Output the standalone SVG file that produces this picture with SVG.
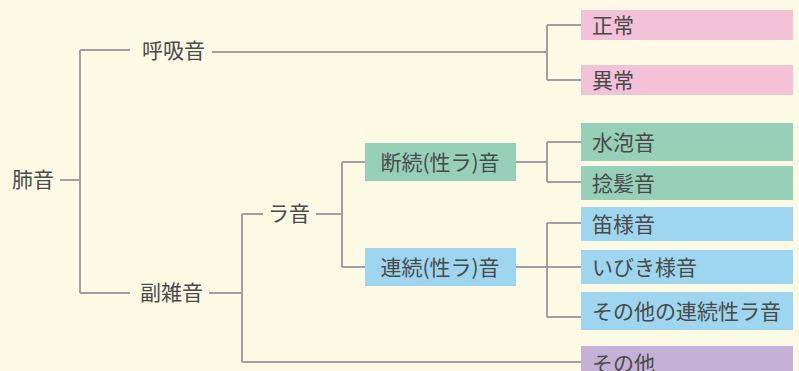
<svg xmlns="http://www.w3.org/2000/svg" width="799" height="371" viewBox="0 0 799 371">
<style>
text{font-family:"Noto Sans CJK JP","Noto Sans",sans-serif;font-size:21px;fill:#4a4a4a;dominant-baseline:central}
.c{text-anchor:middle}
#connectors path{fill:none;stroke:#a0a0a0;stroke-width:2}
.pink{fill:#f3c2d9}.green{fill:#96d0b9}.blue{fill:#9dd6ee}.purple{fill:#c5b1d6}
</style>
<rect width="799" height="371" fill="#fcfae4"/>
<g id="connectors">
<path d="M60 180H80M80 50V293M80 50H130M80 293H130"/>
<path d="M212 52H547M547 25V80M547 25H581M547 80H581"/>
<path d="M209 293H242M242 214V362M242 214H263M242 362H590"/>
<path d="M316 214H342M342 162V267M342 162H365M342 267H365"/>
<path d="M516 162H547M547 142V182M547 142H581M547 182H581"/>
<path d="M516 267H581M547 223V317M547 223H581M547 317H581"/>
</g>
<g id="n-haion"><text x="12" y="178">肺音</text></g>
<g id="n-kokyuon"><text x="142" y="49">呼吸音</text></g>
<g id="n-fukuzatsuon"><text x="140" y="291">副雑音</text></g>
<g id="n-raon"><text x="268" y="212">ラ音</text></g>
<g id="n-danzoku"><rect class="green" x="365" y="143" width="151" height="38"/><text class="c" x="440" y="161">断続(性ラ)音</text></g>
<g id="n-renzoku"><rect class="blue" x="365" y="248" width="151" height="38"/><text class="c" x="440" y="266">連続(性ラ)音</text></g>
<g id="n-seijo"><rect class="pink" x="581" y="10" width="212" height="30"/><text x="592" y="24">正常</text></g>
<g id="n-ijo"><rect class="pink" x="581" y="65" width="212" height="30"/><text x="592" y="79">異常</text></g>
<g id="n-suihoon"><rect class="green" x="581" y="123" width="212" height="38"/><text x="592" y="141">水泡音</text></g>
<g id="n-nenpatsuon"><rect class="green" x="581" y="166" width="212" height="34"/><text x="592" y="182">捻髪音</text></g>
<g id="n-tekiyoon"><rect class="blue" x="581" y="207" width="212" height="34"/><text x="592" y="223">笛様音</text></g>
<g id="n-ibiki"><rect class="blue" x="581" y="250" width="212" height="34"/><text x="592" y="266">いびき様音</text></g>
<g id="n-sonota-renzoku"><rect class="blue" x="581" y="292" width="212" height="38"/><text x="592" y="310">その他の連続性ラ音</text></g>
<g id="n-sonota"><rect class="purple" x="581" y="346" width="212" height="38"/><text x="592" y="362">その他</text></g>
</svg>
